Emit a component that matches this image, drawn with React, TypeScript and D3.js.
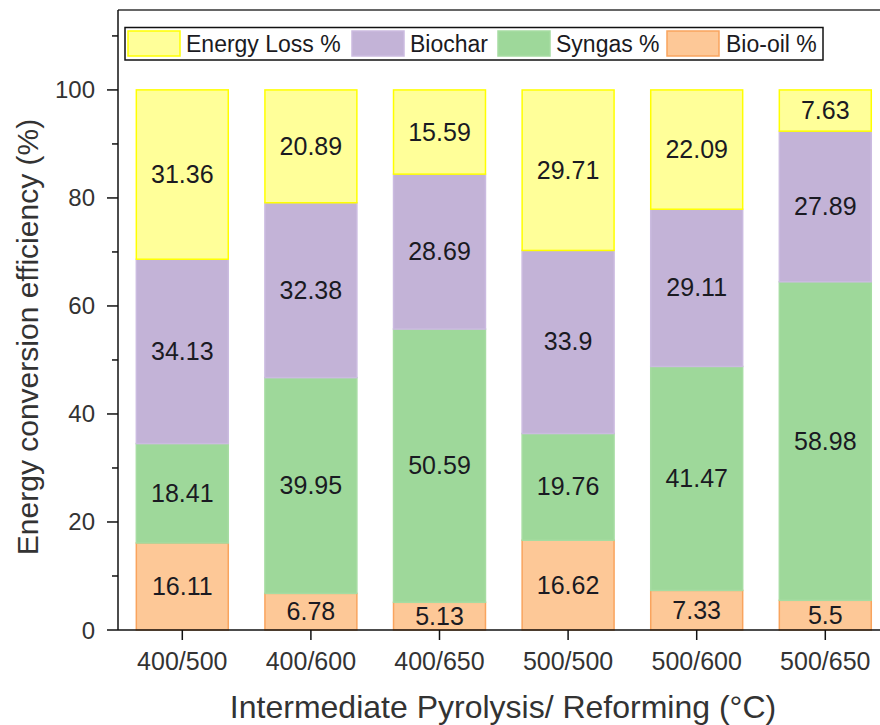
import React from "react";
import * as d3 from "d3";

const categories = ["400/500", "400/600", "400/650", "500/500", "500/600", "500/650"];
const bioOil = [16.11, 6.78, 5.13, 16.62, 7.33, 5.5];
const syngas = [18.41, 39.95, 50.59, 19.76, 41.47, 58.98];
const biochar = [34.13, 32.38, 28.69, 33.9, 29.11, 27.89];
const energyLoss = [31.36, 20.89, 15.59, 29.71, 22.09, 7.63];
const yTicks = [0, 20, 40, 60, 80, 100];
const yMinorTicks = [10, 30, 50, 70, 90, 110];

const seriesNames = ["Bio-oil %", "Syngas %", "Biochar", "Energy Loss %"];
const seriesValues = [bioOil, syngas, biochar, energyLoss];
const fills = ["#FDC897", "#9ED89A", "#C3B3D7", "#FFFF99"];
const strokes = ["#F9A45E", "#A6DCA2", "#CBBBE0", "#FFFF00"];

const legendOrder = [3, 2, 1, 0];
const legendNames = ["Energy Loss %", "Biochar", "Syngas %", "Bio-oil %"];

export default function App() {
  const W = 880, H = 725;
  const left = 118, top = 10, bottom = 630;
  const step = 128.6;
  const right = left + step * categories.length;

  const x = d3.scaleBand<string>().domain(categories).range([left, right]).paddingInner(0.285).paddingOuter(0.1425);
  const y = d3.scaleLinear().domain([0, 114.8]).range([bottom, top]);

  const stackData = categories.map((c, i) => {
    const o: any = { cat: c };
    seriesNames.forEach((s, k) => (o[s] = seriesValues[k][i]));
    return o;
  });
  const stack = d3.stack<any>().keys(seriesNames)(stackData);

  const font = "Arial, 'Liberation Sans', sans-serif";
  const legendSwatchX = [128, 352, 498, 667];
  const legendTextX = [186, 410, 556, 726];

  return (
    <svg width={W} height={H} style={{ position: "absolute", left: 0, top: 0, background: "#fff" }} fontFamily={font}>
      <rect x={0} y={0} width={W} height={H} fill="#fff" />
      {stack.map((layer, k) => (
        <g key={k}>
          {layer.map((d, i) => {
            const x0 = x(categories[i])!;
            const y0 = y(d[1]);
            const y1 = y(d[0]);
            return (
              <g key={i}>
                <rect x={x0} y={y0} width={x.bandwidth()} height={y1 - y0} fill={fills[k]} stroke={strokes[k]} strokeWidth={1.5} />
                <text x={x0 + x.bandwidth() / 2} y={(y0 + y1) / 2 + 8.5} textAnchor="middle" fontSize={25} fill="#1a1a22">
                  {String(seriesValues[k][i])}
                </text>
              </g>
            );
          })}
        </g>
      ))}
      {/* frame */}
      <line x1={left} x2={W} y1={top} y2={top} stroke="#333" strokeWidth={1.5} />
      <line x1={left} x2={W} y1={bottom} y2={bottom} stroke="#111" strokeWidth={1.5} />
      <line x1={left} x2={left} y1={top} y2={bottom} stroke="#111" strokeWidth={1.5} />
      {yTicks.map((t) => (
        <g key={t}>
          <line x1={left - 11} x2={left} y1={y(t)} y2={y(t)} stroke="#111" strokeWidth={1.5} />
          <text x={95} y={y(t) + 8.5} textAnchor="end" fontSize={24} fill="#333">{t}</text>
        </g>
      ))}
      {yMinorTicks.map((t) => (
        <line key={t} x1={left - 6} x2={left} y1={y(t)} y2={y(t)} stroke="#111" strokeWidth={1.5} />
      ))}
      {categories.map((c) => {
        const cx = x(c)! + x.bandwidth() / 2;
        return (
          <g key={c}>
            <line x1={cx} x2={cx} y1={bottom} y2={bottom + 10} stroke="#111" strokeWidth={1.5} />
            <text x={cx} y={670} textAnchor="middle" fontSize={25} fill="#333">{c}</text>
          </g>
        );
      })}
      <text x={503} y={718} textAnchor="middle" fontSize={32} fill="#333">Intermediate Pyrolysis/ Reforming (°C)</text>
      <text transform="translate(37.5,337) rotate(-90)" textAnchor="middle" fontSize={30} fill="#333">Energy conversion efficiency (%)</text>
      {/* legend */}
      <rect x={125} y={27.5} width={698} height={32.5} fill="#fff" stroke="#111" strokeWidth={1.5} />
      {legendOrder.map((k, j) => (
        <g key={j}>
          <rect x={legendSwatchX[j]} y={31} width={52} height={25} fill={fills[k]} stroke={strokes[k]} strokeWidth={1.5} />
          <text x={legendTextX[j]} y={51.5} fontSize={23} fill="#1a1a22">{legendNames[j]}</text>
        </g>
      ))}
    </svg>
  );
}
